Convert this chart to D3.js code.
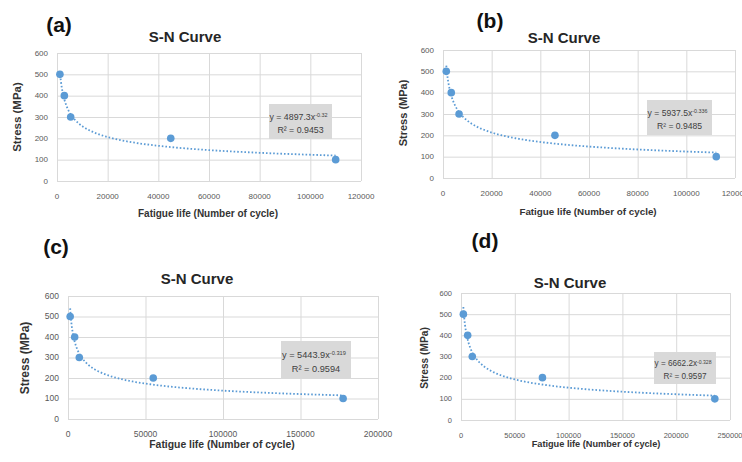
<!DOCTYPE html>
<html>
<head>
<meta charset="utf-8">
<script src="https://cdn.jsdelivr.net/npm/d3@7"></script>
<style>
  body { margin: 0; background: #fff; }
  svg { font-family: "Liberation Sans", Arial, sans-serif; display: block; }
</style>
</head>
<body>
<div id="chart"></div>
<script>
// stress levels (MPa), same for all four tests
const stress = [500, 400, 300, 200, 100]

// fatigue life (cycles)
const cyclesA = [1150, 2900, 5400, 44900, 110000]
const cyclesB = [1350, 3400, 6600, 46000, 112300]
const cyclesC = [1400, 4300, 7300, 55000, 177500]
const cyclesD = [2200, 6200, 10500, 75700, 235900]

// power trendline y = a * x^b, and R²
const fitA = {a: 4897.3, b: -0.32, r2: 0.9453, aText: "4897.3", bText: "-0.32"}
const fitB = {a: 5937.5, b: -0.336, r2: 0.9485, aText: "5937.5", bText: "-0.336"}
const fitC = {a: 5443.9, b: -0.319, r2: 0.9594, aText: "5443.9", bText: "-0.319"}
const fitD = {a: 6662.2, b: -0.328, r2: 0.9597, aText: "6662.2", bText: "-0.328"}

const yTicks = [0, 100, 200, 300, 400, 500, 600]
const xTicksAB = [0, 20000, 40000, 60000, 80000, 100000, 120000]
const xTicksC = [0, 50000, 100000, 150000, 200000]
const xTicksD = [0, 50000, 100000, 150000, 200000, 250000]

const blue = "#5b9bd5"
const grid = "#d9d9d9"

const svg = d3.select("#chart").append("svg")
  .attr("width", 742)
  .attr("height", 462)

function drawPanel(p) {
  const x = d3.scaleLinear().domain([0, p.xTicks[p.xTicks.length - 1]]).range([p.left, p.right])
  const y = d3.scaleLinear().domain([0, 600]).range([p.bottom, p.top])
  const g = svg.append("g")

  // gridlines
  g.append("g")
    .call(d3.axisLeft(y).tickValues(yTicks).tickSize(-(p.right - p.left)).tickFormat(""))
    .attr("transform", `translate(${p.left},0)`)
    .call(a => a.select(".domain").remove())
    .call(a => a.selectAll("line").attr("stroke", grid))
  g.append("g")
    .call(d3.axisBottom(x).tickValues(p.xTicks).tickSize(-(p.bottom - p.top)).tickFormat(""))
    .attr("transform", `translate(0,${p.bottom})`)
    .call(a => a.select(".domain").remove())
    .call(a => a.selectAll("line").attr("stroke", grid))

  // tick labels
  g.append("g").selectAll("text").data(yTicks).join("text")
    .attr("x", p.left - 9)
    .attr("y", d => y(d))
    .attr("dy", "0.35em")
    .attr("text-anchor", "end")
    .attr("font-size", p.tickSize)
    .attr("fill", "#595959")
    .text(d => d)
  g.append("g").selectAll("text").data(p.xTicks).join("text")
    .attr("x", d => x(d))
    .attr("y", p.bottom + 15)
    .attr("dy", "0.35em")
    .attr("text-anchor", "middle")
    .attr("font-size", p.tickSize)
    .attr("fill", "#595959")
    .text(d => d)

  // trendline
  const xs = d3.range(0, 101).map(i => {
    const lo = Math.log(p.cycles[0]), hi = Math.log(p.cycles[p.cycles.length - 1])
    return Math.exp(lo + (hi - lo) * i / 100)
  })
  const line = d3.line()
    .x(d => x(d))
    .y(d => y(p.fit.a * Math.pow(d, p.fit.b)))
  g.append("path")
    .datum(xs)
    .attr("fill", "none")
    .attr("stroke", blue)
    .attr("stroke-width", 1.8)
    .attr("stroke-dasharray", "1.6,2")
    .attr("d", line)

  // points
  g.append("g").selectAll("circle").data(p.cycles).join("circle")
    .attr("cx", d => x(d))
    .attr("cy", (d, i) => y(stress[i]))
    .attr("r", 3.8)
    .attr("fill", blue)

  // equation box
  g.append("rect")
    .attr("x", p.box[0]).attr("y", p.box[1])
    .attr("width", p.box[2]).attr("height", p.box[3])
    .attr("fill", "#d9d9d9")
  const cx = p.box[0] + p.box[2] / 2
  const eq = g.append("text")
    .attr("x", cx - 2)
    .attr("y", p.box[1] + p.box[3] * 0.36)
    .attr("dy", "0.35em")
    .attr("text-anchor", "middle")
    .attr("font-size", p.eqSize)
    .attr("fill", "#404040")
  eq.append("tspan").text(`y = ${p.fit.aText}x`)
  eq.append("tspan").attr("dy", "-0.5em").attr("font-size", p.eqSize * 0.62).text(p.fit.bText)
  g.append("text")
    .attr("x", cx)
    .attr("y", p.box[1] + p.box[3] * 0.74)
    .attr("dy", "0.35em")
    .attr("text-anchor", "middle")
    .attr("font-size", p.eqSize)
    .attr("fill", "#404040")
    .text(`R² = ${p.fit.r2}`)

  // titles
  g.append("text")
    .attr("x", p.title[0]).attr("y", p.title[1])
    .attr("dy", "0.35em")
    .attr("text-anchor", "middle")
    .attr("font-size", 15)
    .attr("font-weight", "bold")
    .attr("fill", "#262626")
    .text("S-N Curve")
  g.append("text")
    .attr("x", p.xTitle[0]).attr("y", p.xTitle[1])
    .attr("dy", "0.35em")
    .attr("text-anchor", "middle")
    .attr("font-size", p.xTitleSize)
    .attr("font-weight", "bold")
    .attr("fill", "#333")
    .text("Fatigue life (Number of cycle)")
  g.append("text")
    .attr("transform", `translate(${p.yTitle[0]},${p.yTitle[1]}) rotate(-90)`)
    .attr("dy", "0.35em")
    .attr("text-anchor", "middle")
    .attr("font-size", p.yTitleSize)
    .attr("font-weight", "bold")
    .attr("fill", "#333")
    .text("Stress (MPa)")
  g.append("text")
    .attr("x", p.label[0]).attr("y", p.label[1])
    .attr("dy", "0.35em")
    .attr("text-anchor", "middle")
    .attr("font-size", 21)
    .attr("font-weight", "bold")
    .attr("fill", "#111")
    .text(p.name)
}

drawPanel({name: "(a)", cycles: cyclesA, fit: fitA, xTicks: xTicksAB,
  left: 57, right: 361, top: 53, bottom: 181, tickSize: 8, eqSize: 8.8,
  box: [269, 104, 63, 35], title: [185, 37], xTitle: [208, 213], xTitleSize: 10,
  yTitle: [17, 117], yTitleSize: 11.5, label: [59, 25]})

drawPanel({name: "(b)", cycles: cyclesB, fit: fitB, xTicks: xTicksAB,
  left: 443, right: 735, top: 50, bottom: 178, tickSize: 8, eqSize: 8.6,
  box: [647, 100, 65, 35], title: [564, 38], xTitle: [588, 212], xTitleSize: 9.8,
  yTitle: [403, 113], yTitleSize: 11, label: [490, 21]})

drawPanel({name: "(c)", cycles: cyclesC, fit: fitC, xTicks: xTicksC,
  left: 68, right: 378, top: 296, bottom: 419, tickSize: 8.5, eqSize: 9.2,
  box: [281, 341, 70, 37], title: [197, 279], xTitle: [222, 444], xTitleSize: 10.4,
  yTitle: [25, 358], yTitleSize: 12, label: [56, 247]})

drawPanel({name: "(d)", cycles: cyclesD, fit: fitD, xTicks: xTicksD,
  left: 461, right: 730, top: 293, bottom: 420, tickSize: 7.5, eqSize: 8.2,
  box: [654, 352, 62, 32], title: [570, 283], xTitle: [596, 444], xTitleSize: 9.2,
  yTitle: [424, 358], yTitleSize: 10.2, label: [485, 241]})
</script>
</body>
</html>
